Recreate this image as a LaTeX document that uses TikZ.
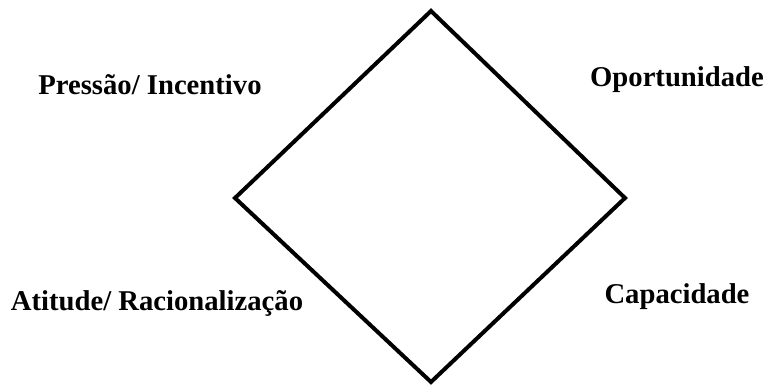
\documentclass[tikz,border=0pt]{standalone}
\usepackage{fontspec}
\setmainfont{Liberation Serif}
\begin{document}
\begin{tikzpicture}[x=0.75pt,y=-0.75pt,
  lbl/.style={font=\fontsize{21.5}{24}\selectfont\bfseries, inner sep=0pt}]
\useasboundingbox (0,0) rectangle (768,388);
\coordinate (T) at (431,11);
\coordinate (R) at (625,198);
\coordinate (B) at (431,382);
\coordinate (L) at (235,198);
\draw[line width=3pt, line join=miter] (T) -- (R) -- (B) -- (L) -- cycle;
\node[lbl] (p) at (150,85) {Pressão/ Incentivo};
\node[lbl] (o) at (677,80) {Oportunidade};
\node[lbl] (a) at (157,303) {Atitude/ Racionalização};
\node[lbl] (c) at (677,297) {Capacidade};
\end{tikzpicture}
\end{document}
